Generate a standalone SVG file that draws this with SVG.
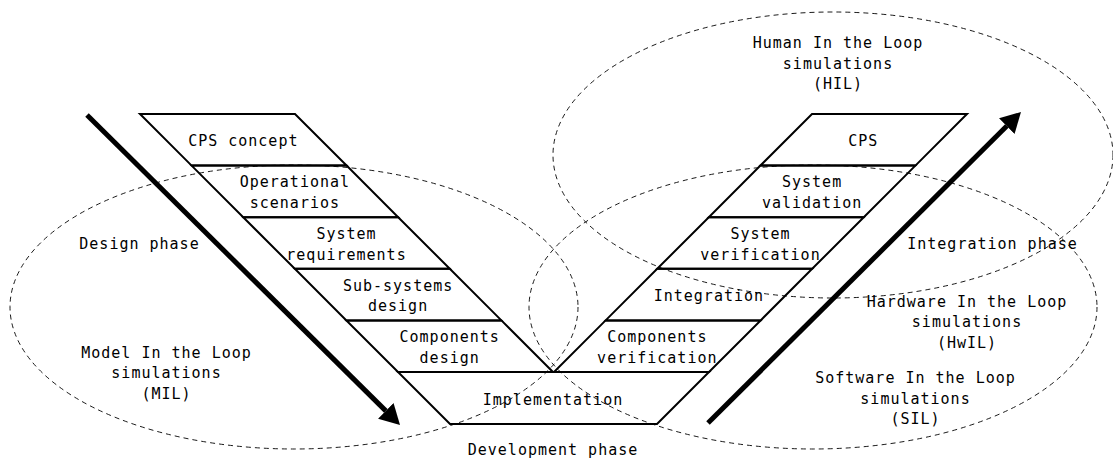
<svg xmlns="http://www.w3.org/2000/svg" width="1113" height="459" viewBox="0 0 1113 459">
  <defs>
    <style>
      .cell { fill: none; stroke: #000; stroke-width: 2; stroke-linejoin: miter; }
      .zone { fill: none; stroke: #000; stroke-width: 0.9; stroke-dasharray: 5 4; }
      .flow { fill: none; stroke: #000; stroke-width: 5; stroke-linecap: butt; }
      text { font-family: "DejaVu Sans Mono", "Liberation Mono", monospace; font-size: 15px; letter-spacing: 1px; fill: #000; text-anchor: middle; }
    </style>
    <marker id="head" viewBox="0 0 20 22" refX="0" refY="11" markerWidth="20" markerHeight="22" markerUnits="userSpaceOnUse" orient="auto">
      <path d="M0,0 L20,11 L0,22 Z" fill="#000"/>
    </marker>
  </defs>

  <rect width="1113" height="459" fill="#fff"/>

  <!-- simulation zones (dashed ellipses) -->
  <g id="zones">
    <ellipse id="zone-mil" class="zone" cx="294" cy="307" rx="284" ry="142"/>
    <ellipse id="zone-sil" class="zone" cx="813" cy="307" rx="284" ry="142"/>
    <ellipse id="zone-hil" class="zone" cx="833" cy="155" rx="280" ry="143"/>
  </g>

  <!-- left arm: design steps -->
  <g id="cps-concept">
    <polygon class="cell" points="140,114 295,114 346.6,165.6 191.6,165.6"/>
    <text x="243.3" y="146.3">CPS concept</text>
  </g>
  <g id="operational-scenarios">
    <polygon class="cell" points="191.6,165.6 346.6,165.6 398.2,217.2 243.2,217.2"/>
    <text x="294.9" y="187.4">Operational</text>
    <text x="294.9" y="208">scenarios</text>
  </g>
  <g id="system-requirements">
    <polygon class="cell" points="243.2,217.2 398.2,217.2 449.8,268.8 294.8,268.8"/>
    <text x="346.5" y="239">System</text>
    <text x="346.5" y="259.6">requirements</text>
  </g>
  <g id="sub-systems-design">
    <polygon class="cell" points="294.8,268.8 449.8,268.8 501.4,320.4 346.4,320.4"/>
    <text x="398.1" y="290.6">Sub-systems</text>
    <text x="398.1" y="311.2">design</text>
  </g>
  <g id="components-design">
    <polygon class="cell" points="346.4,320.4 501.4,320.4 553,372 398,372"/>
    <text x="449.7" y="342.4">Components</text>
    <text x="449.7" y="362.6">design</text>
  </g>

  <!-- bottom of the V -->
  <g id="implementation">
    <polygon class="cell" points="398,372 709,372 657,424 450,424"/>
    <text x="553" y="405">Implementation</text>
  </g>

  <!-- right arm: integration steps -->
  <g id="cps">
    <polygon class="cell" points="812,114 967,114 915.4,165.6 760.4,165.6"/>
    <text x="863.2" y="146.3">CPS</text>
  </g>
  <g id="system-validation">
    <polygon class="cell" points="760.4,165.6 915.4,165.6 863.8,217.2 708.8,217.2"/>
    <text x="812.1" y="187.4">System</text>
    <text x="812.1" y="208">validation</text>
  </g>
  <g id="system-verification">
    <polygon class="cell" points="708.8,217.2 863.8,217.2 812.2,268.8 657.2,268.8"/>
    <text x="760.5" y="239">System</text>
    <text x="760.5" y="259.6">verification</text>
  </g>
  <g id="integration">
    <polygon class="cell" points="657.2,268.8 812.2,268.8 760.6,320.4 605.6,320.4"/>
    <text x="708.9" y="301">Integration</text>
  </g>
  <g id="components-verification">
    <polygon class="cell" points="605.6,320.4 760.6,320.4 709,372 554,372"/>
    <text x="657.3" y="342.4">Components</text>
    <text x="657.3" y="362.6">verification</text>
  </g>

  <!-- phase arrows -->
  <g id="connectors">
    <line class="flow" x1="87" y1="115" x2="385.8" y2="410.9" marker-end="url(#head)"/>
    <line class="flow" x1="708" y1="423" x2="1006.8" y2="126.1" marker-end="url(#head)"/>
  </g>

  <!-- phase and simulation labels -->
  <g id="design-phase">
    <text x="139.5" y="249">Design phase</text>
  </g>
  <g id="development-phase">
    <text x="553" y="455">Development phase</text>
  </g>
  <g id="integration-phase">
    <text x="992.5" y="249">Integration phase</text>
  </g>
  <g id="mil-label">
    <text x="166.5" y="357.5">Model In the Loop</text>
    <text x="166.5" y="378">simulations</text>
    <text x="166.5" y="398.5">(MIL)</text>
  </g>
  <g id="hil-label">
    <text x="838" y="48">Human In the Loop</text>
    <text x="838" y="68.5">simulations</text>
    <text x="838" y="89">(HIL)</text>
  </g>
  <g id="hwil-label">
    <text x="967" y="306.5">Hardware In the Loop</text>
    <text x="967" y="327">simulations</text>
    <text x="967" y="347.5">(HwIL)</text>
  </g>
  <g id="sil-label">
    <text x="915.5" y="383">Software In the Loop</text>
    <text x="915.5" y="403.5">simulations</text>
    <text x="915.5" y="424">(SIL)</text>
  </g>
</svg>
